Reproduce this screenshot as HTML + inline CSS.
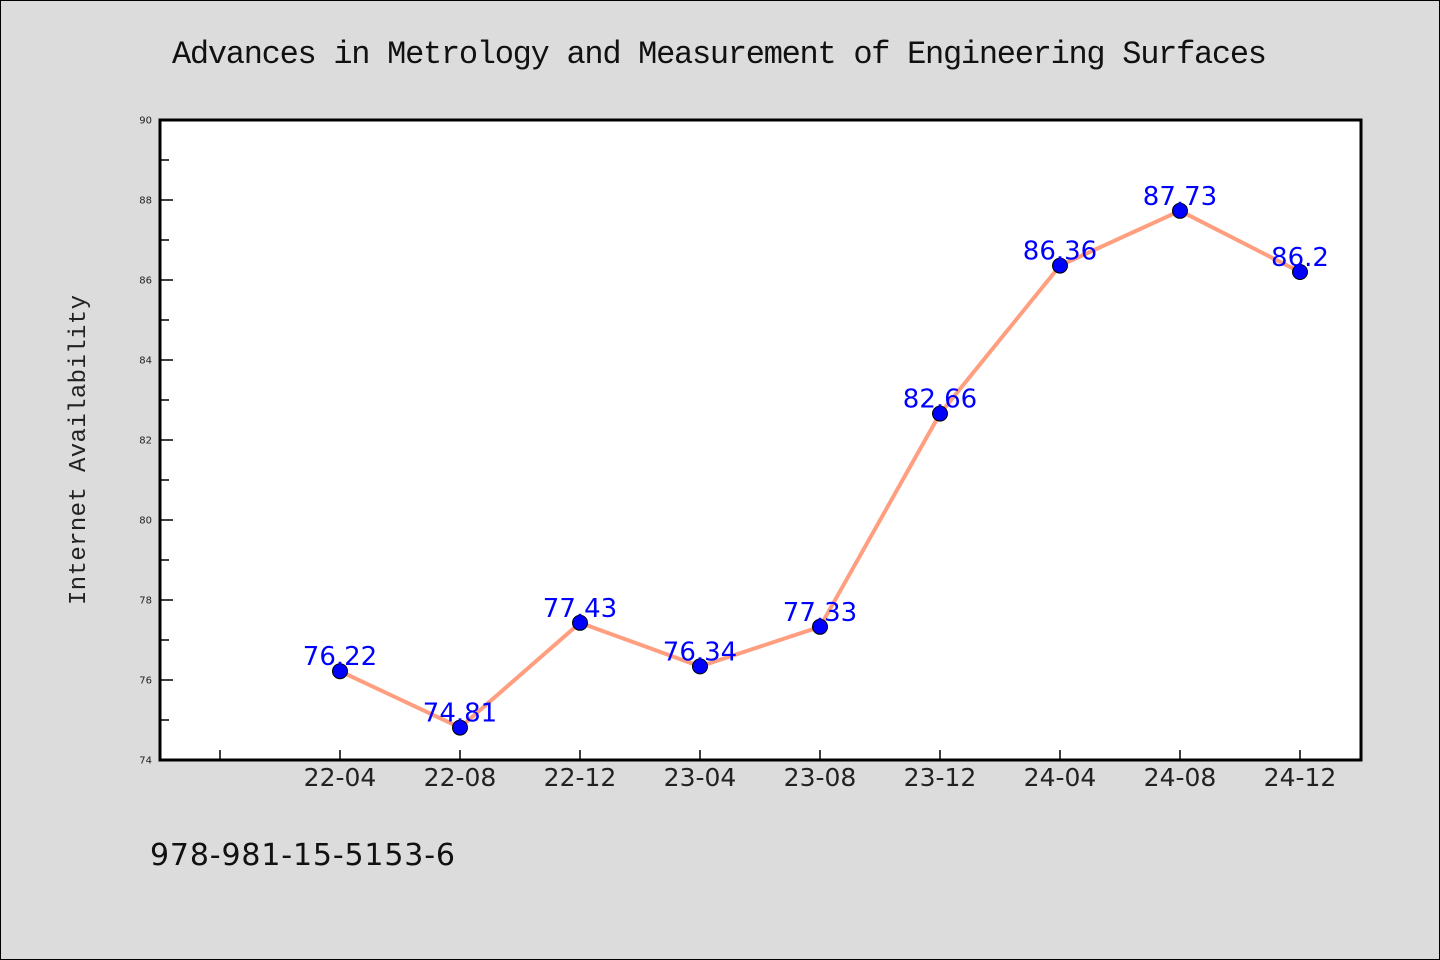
<!DOCTYPE html>
<html><head><meta charset="utf-8"><style>
html,body{margin:0;padding:0;background:#dcdcdc}
svg{display:block}
</style></head><body>
<svg id="chart" width="1440" height="960" xmlns="http://www.w3.org/2000/svg">
<rect x="0.5" y="0.5" width="1439" height="959" fill="#dcdcdc" stroke="#000"/>
<text x="172" y="63" font-family="Liberation Mono, monospace" font-size="32" fill="#111" textLength="1095">Advances in Metrology and Measurement of Engineering Surfaces</text>
<rect x="160" y="120" width="1201" height="640" fill="#fff"/>
<g id="axes"></g>
<g id="series"></g>
<rect x="160" y="120" width="1201" height="640" fill="none" stroke="#000" stroke-width="3"/>
<text transform="translate(85,450) rotate(-90)" text-anchor="middle" font-family="Liberation Mono, monospace" font-size="24" fill="#222" textLength="310">Internet Availability</text>
<text x="150" y="865" font-family="DejaVu Sans, sans-serif" font-size="30" fill="#111" textLength="305">978-981-15-5153-6</text>
</svg>
<script>
const categories = ["22-04","22-08","22-12","23-04","23-08","23-12","24-04","24-08","24-12"];
const values = [76.22,74.81,77.43,76.34,77.33,82.66,86.36,87.73,86.2];
const yTicks = [74,76,78,80,82,84,86,88,90];
const NS="http://www.w3.org/2000/svg";
const L=160,R=1361,T=120,B=760,yMin=74,yMax=90;
function ys(v){return B-(v-yMin)/(yMax-yMin)*(B-T);}
function xs(i){return 340+i*120;}
function mk(tag,attrs,parent){const e=document.createElementNS(NS,tag);for(const k in attrs)e.setAttribute(k,attrs[k]);parent.appendChild(e);return e;}
const ax=document.getElementById('axes'), sr=document.getElementById('series');
yTicks.forEach((t,i)=>{
  const y=ys(t);
  const ln=mk('line',{x1:L,x2:L+13,y1:y,y2:y,stroke:'#000','stroke-width':1.5},ax);
  
  
  const tx=mk('text',{x:L-8,y:y+3.5,'text-anchor':'end','font-family':'DejaVu Sans, sans-serif','font-size':10,fill:'#222'},ax);
  tx.textContent=t;
  
  
  if(i<yTicks.length-1){
    const ym=ys(t+1);
    const mn=mk('line',{x1:L,x2:L+9,y1:ym,y2:ym,stroke:'#000','stroke-width':1.5},ax);
    
    
  }
});
const t0=mk('line',{x1:xs(-1),x2:xs(-1),y1:B,y2:B-10,stroke:'#000','stroke-width':1.5},ax);


categories.forEach((c,i)=>{
  const x=xs(i);
  const ln=mk('line',{x1:x,x2:x,y1:B,y2:B-10,stroke:'#000','stroke-width':1.5},ax);
  
  
  const tx=mk('text',{x:x,y:B+26,'text-anchor':'middle','font-family':'DejaVu Sans, sans-serif','font-size':25,fill:'#222'},ax);
  tx.textContent=c;
  
  
});
const pl=mk('polyline',{points:values.map((v,i)=>xs(i)+','+ys(v)).join(' '),fill:'none',stroke:'#ff9f7f','stroke-width':4,'stroke-linejoin':'round'},sr);


values.forEach((v,i)=>{
  const c=mk('circle',{cx:xs(i),cy:ys(v),r:7.5,fill:'#0000ff',stroke:'#000','stroke-width':1},sr);
  
  
});
values.forEach((v,i)=>{
  const t=mk('text',{x:xs(i),y:ys(v)-6,'text-anchor':'middle','font-family':'DejaVu Sans, sans-serif','font-size':26,fill:'#0000ff'},sr);
  t.textContent=v;
  
  
});
</script>
</body></html>
